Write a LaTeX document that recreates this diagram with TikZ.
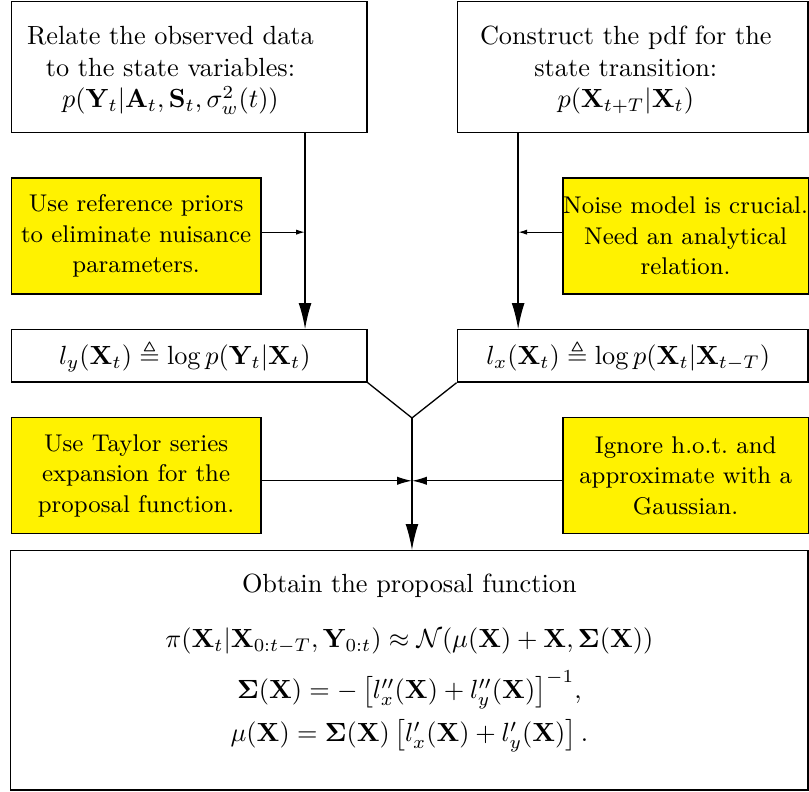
\documentclass[tikz,border=0pt]{standalone}
\usepackage{amsmath,amssymb}
\usetikzlibrary{arrows.meta}

\begin{document}
\begin{tikzpicture}[line width=0.5pt,
    stepbox/.style={draw, align=center, inner sep=0pt},
    steptext/.style={align=center, inner sep=0pt},
    notebox/.style={draw, fill=yellow, align=center, inner sep=0pt,
                    minimum height=1.55cm, font=\fontsize{9.2}{11.6}\selectfont},
    bigarrow/.style={-{Latex[length=9.9pt,width=4.9pt]}},
    tinyarrow/.style={-{Latex[length=3.4pt,width=2pt]}},
    midarrow/.style={-{Latex[length=5.7pt,width=3.2pt]}}]
    \useasboundingbox (0,0) rectangle (10.82,-10.59);

    % Observation model
    \node[stepbox, minimum width=4.76cm, minimum height=1.75cm] (relate) at (2.53,-0.895) {};
    \node[steptext] (relate-text) at (2.28,-0.94) {
        Relate the observed data\\
        to the state variables:\\
        $p(\mathbf{Y}_t|\mathbf{A}_t,\mathbf{S}_t,\sigma^2_w(t))$
    };

    % State transition
    \node[stepbox, minimum width=4.69cm, minimum height=1.75cm] (construct) at (8.46,-0.895) {};
    \node[steptext] (construct-text) at (8.37,-0.94) {
        Construct the pdf for the\\
        state transition:\\
        $p(\mathbf{X}_{t+T}|\mathbf{X}_t)$
    };

    % Side remarks, upper row
    \node[notebox, minimum width=3.34cm] (priors) at (1.82,-3.155) {
        Use reference priors\\
        to eliminate nuisance\\
        parameters.
    };
    \node[notebox, minimum width=3.28cm] (noise) at (9.17,-3.155) {
        Noise model is crucial.\\
        Need an analytical\\
        relation.
    };

    % Log-likelihoods
    \node[stepbox, minimum width=4.76cm, minimum height=0.70cm] (logy) at (2.53,-4.76) {
        $l_y(\mathbf{X}_t)\triangleq\log p(\mathbf{Y}_t|\mathbf{X}_t)$
    };
    \node[stepbox, minimum width=4.69cm, minimum height=0.70cm] (logx) at (8.46,-4.76) {
        $l_x(\mathbf{X}_t)\triangleq\log p(\mathbf{X}_t|\mathbf{X}_{t-T})$
    };

    % Side remarks, lower row
    \node[notebox, minimum width=3.34cm] (taylor) at (1.82,-6.36) {
        Use Taylor series\\
        expansion for the\\
        proposal function.
    };
    \node[notebox, minimum width=3.28cm] (hot) at (9.17,-6.36) {
        Ignore h.o.t.\ and\\
        approximate with a\\
        Gaussian.
    };

    % Proposal function
    \node[stepbox, minimum width=10.66cm, minimum height=3.20cm] (proposal) at (5.475,-8.965) {};
    \node[steptext] (proposal-text) at (5.475,-8.865) {
        Obtain the proposal function\\[9pt]
        $\pi(\mathbf{X}_t|\mathbf{X}_{0:t-T},\mathbf{Y}_{0:t})\approx
         \mathcal{N}(\mu(\mathbf{X})+\mathbf{X},\mathbf{\Sigma}(\mathbf{X}))$\\[5.4pt]
        $\mathbf{\Sigma}(\mathbf{X})=-\,\bigl[l''_x(\mathbf{X})+l''_y(\mathbf{X})\bigr]^{-1},$\\[3pt]
        $\mu(\mathbf{X})=\mathbf{\Sigma}(\mathbf{X})\,\bigl[l'_x(\mathbf{X})+l'_y(\mathbf{X})\bigr]\,.$
    };

    % Connectors
    \coordinate (lline) at (4.08,0);
    \coordinate (rline) at (6.93,0);
    \coordinate (merge) at (5.51,-5.59);
    \draw[bigarrow] (relate.south -| lline) -- (logy.north -| lline);
    \draw[bigarrow] (construct.south -| rline) -- (logx.north -| rline);
    \draw[tinyarrow] ([yshift=0.05cm]priors.east) -- ([yshift=0.05cm]priors.east -| lline);
    \draw[tinyarrow] ([yshift=0.05cm]noise.west) -- ([yshift=0.05cm]noise.west -| rline);
    \draw (logy.south east) -- (merge) -- (logx.south west);
    \draw[bigarrow] (merge) -- (proposal.north -| merge);
    \draw[midarrow] ([yshift=-0.07cm]taylor.east) -- ([yshift=-0.07cm]taylor.east -| merge);
    \draw[midarrow] ([yshift=-0.07cm]hot.west) -- ([yshift=-0.07cm]hot.west -| merge);
\end{tikzpicture}
\end{document}
